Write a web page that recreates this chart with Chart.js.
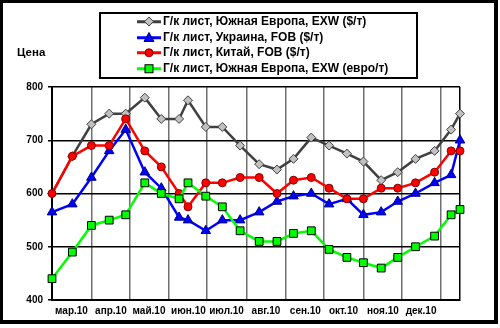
<!DOCTYPE html>
<html>
<head>
<meta charset="utf-8">
<script src="https://cdn.jsdelivr.net/npm/chart.js@4"></script>
<style>
    body { margin: 0; background: #fff; font-family: "Liberation Sans", Arial, sans-serif; }
    #wrap { position: relative; width: 500px; height: 328px; }
    #chart { position: absolute; left: 0; top: 0; }
    #frame {
        position: absolute; left: 0; top: 0; width: 498px; height: 324px;
        box-sizing: border-box; border: 3px solid #000;
        border-right-width: 4px; border-bottom-width: 4px;
    }
    #legend {
        position: absolute; left: 99px; top: 12px; width: 319px; height: 67px;
        box-sizing: border-box; border: 2px solid #000; background: #fff;
    }
    .row { position: relative; height: 15.5px; line-height: 15.5px; font-size: 12px; font-weight: bold; white-space: nowrap; }
    .row svg { position: absolute; left: 36px; top: 0; }
    .row span { position: absolute; left: 62px; top: 0; }
    #ylabel { position: absolute; left: 17px; top: 46px; font-size: 11.5px; font-weight: bold; }
</style>
</head>
<body>
<div id="wrap">
    <canvas id="chart" width="500" height="328"></canvas>
    <div id="ylabel">Цена</div>
    <div id="legend"></div>
    <div id="frame"></div>
</div>
<script>
const dates = [
    "2010-03-01", "2010-03-17", "2010-04-01", "2010-04-15", "2010-04-28",
    "2010-05-13", "2010-05-26", "2010-06-09", "2010-06-16", "2010-06-30",
    "2010-07-13", "2010-07-27", "2010-08-11", "2010-08-25", "2010-09-07",
    "2010-09-21", "2010-10-05", "2010-10-19", "2010-11-01", "2010-11-15",
    "2010-11-28", "2010-12-12", "2010-12-27", "2011-01-09", "2011-01-16"
];

const euroUsd = [600, 670, 730, 750, 750, 780, 740, 740, 775, 725, 725, 690, 655, 645, 665, 705, 690, 675, 660, 625, 640, 665, 680, 720, 750];
const ukraine = [565, 580, 630, 680, 720, 640, 610, 555, 550, 530, 550, 550, 565, 585, 595, 600, 580, 590, 560, 565, 585, 600, 620, 635, 700];
const china = [600, 670, 690, 690, 740, 680, 650, 600, 575, 620, 620, 630, 630, 600, 625, 630, 610, 590, 590, 610, 610, 620, 640, 680, 680];
const euroEur = [440, 490, 540, 550, 560, 620, 600, 590, 620, 595, 575, 530, 510, 510, 525, 530, 495, 480, 470, 460, 480, 500, 520, 560, 570];

const seriesNames = [
    "Г/к лист, Южная Европа, EXW ($/т)",
    "Г/к лист, Украина, FOB ($/т)",
    "Г/к лист, Китай, FOB ($/т)",
    "Г/к лист, Южная Европа, EXW (евро/т)"
];

const monthStarts = ["2010-03-01", "2010-04-01", "2010-05-01", "2010-06-01", "2010-07-01", "2010-08-01",
    "2010-09-01", "2010-10-01", "2010-11-01", "2010-12-01", "2011-01-01"];
const monthLabels = ["мар.10", "апр.10", "май.10", "июн.10", "июл.10", "авг.10", "сен.10", "окт.10", "ноя.10", "дек.10"];
const axisEnd = "2011-01-16";

const yTicks = [400, 500, 600, 700, 800];

// days since 1 March 2010
function dayOf(s) {
    return Math.round((Date.parse(s) - Date.parse("2010-03-01")) / 86400000);
}

function points(values) {
    return values.map((v, i) => ({ x: dayOf(dates[i]), y: v }));
}

const styles = [
    { line: "#404040", fill: "#c0c0c0", edge: "#404040", shape: "rectRot", r: 4.5, order: 4 },
    { line: "#0000ff", fill: "#0000ff", edge: "#000080", shape: "triangle", r: 5.5, order: 3 },
    { line: "#ff0000", fill: "#ff0000", edge: "#800000", shape: "circle", r: 4, order: 2 },
    { line: "#00ff00", fill: "#00ff00", edge: "#000000", shape: "rect", r: 5.5, order: 1 }
];

const allValues = [euroUsd, ukraine, china, euroEur];

const datasets = allValues.map((vals, i) => ({
    label: seriesNames[i],
    data: points(vals),
    borderColor: styles[i].line,
    borderWidth: 2.5,
    backgroundColor: styles[i].fill,
    pointBackgroundColor: styles[i].fill,
    pointBorderColor: styles[i].edge,
    pointBorderWidth: 1,
    pointStyle: styles[i].shape,
    pointRadius: styles[i].r,
    order: styles[i].order,
    clip: false,
    tension: 0
}));

const xTickValues = monthStarts.map(dayOf).concat([dayOf(axisEnd)]);

new Chart(document.getElementById("chart"), {
    type: "line",
    data: { datasets: datasets },
    options: {
        responsive: false,
        animation: false,
        devicePixelRatio: 1,
        layout: { padding: { left: 0, right: 40, top: 87, bottom: 0 } },
        plugins: { legend: { display: false }, tooltip: { enabled: false } },
        scales: {
            x: {
                type: "linear",
                min: 0,
                max: dayOf(axisEnd),
                afterBuildTicks: (scale) => {
                    scale.ticks = xTickValues.map(v => ({ value: v }));
                },
                afterFit: (scale) => { scale.height = 28; },
                grid: {
                    color: (ctx) => ctx.index === xTickValues.length - 1 ? "#000" : "#707070",
                    lineWidth: 1.5,
                    drawTicks: false
                },
                border: { color: "#000", width: 2 },
                ticks: {
                    autoSkip: false,
                    maxRotation: 0,
                    padding: 5,
                    labelOffset: 19.5,
                    color: "#000",
                    font: { family: "Liberation Sans", size: 10, weight: "bold" },
                    callback: (v, i) => monthLabels[i] || ""
                }
            },
            y: {
                min: 400,
                max: 800,
                afterBuildTicks: (scale) => {
                    scale.ticks = yTicks.map(v => ({ value: v }));
                },
                afterFit: (scale) => { scale.width = 52; },
                grid: { color: "#000", lineWidth: 1.5, tickLength: 4 },
                border: { color: "#000", width: 2 },
                ticks: {
                    padding: 5,
                    color: "#000",
                    font: { family: "Liberation Sans", size: 10, weight: "bold" }
                }
            }
        }
    }
});

// legend box
const legend = document.getElementById("legend");
seriesNames.forEach((name, i) => {
    const s = styles[i];
    let marker;
    if (s.shape === "rectRot") {
        marker = `<polygon points="12,3 16.5,7.5 12,12 7.5,7.5" fill="${s.fill}" stroke="${s.edge}"/>`;
    } else if (s.shape === "triangle") {
        marker = `<polygon points="12,2.5 17,11.5 7,11.5" fill="${s.fill}" stroke="${s.edge}"/>`;
    } else if (s.shape === "circle") {
        marker = `<circle cx="12" cy="7.75" r="4" fill="${s.fill}" stroke="${s.edge}"/>`;
    } else {
        marker = `<rect x="8" y="3.75" width="8" height="8" fill="${s.fill}" stroke="${s.edge}"/>`;
    }
    const row = document.createElement("div");
    row.className = "row";
    row.innerHTML = `
        <svg width="24" height="16"><line x1="0" y1="7.75" x2="24" y2="7.75" stroke="${s.line}" stroke-width="3"/>${marker}</svg>
        <span>${name}</span>
    `;
    legend.appendChild(row);
});
</script>
</body>
</html>
